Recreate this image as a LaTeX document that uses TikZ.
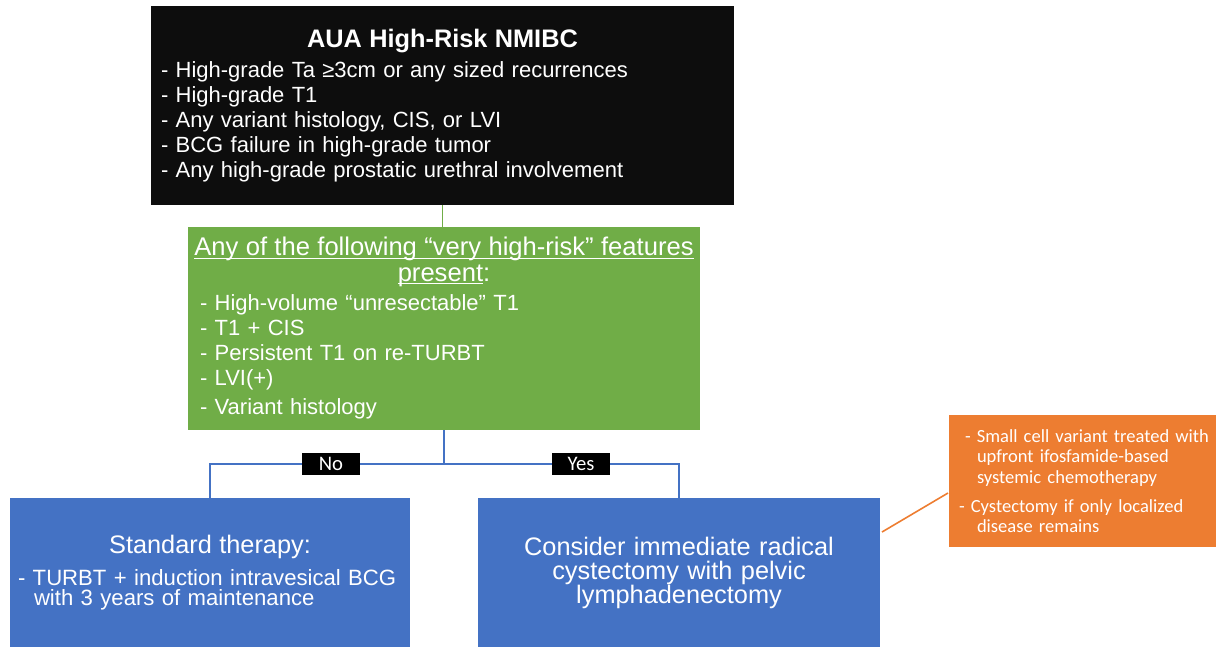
\documentclass[tikz,border=0pt]{standalone}
\usepackage{fontspec}
\setmainfont{Liberation Sans}
\newfontfamily\calfont{Carlito}
\usepackage{tikz}
\usetikzlibrary{shapes}
\newcommand{\ulword}[1]{\leavevmode\setbox0\hbox{#1}\rlap{\rule[-2.6pt]{\wd0}{0.9pt}}\box0}
\definecolor{hrblack}{HTML}{0D0D0D}
\definecolor{vhrgreen}{HTML}{70AD47}
\definecolor{txblue}{HTML}{4472C4}
\definecolor{noteorange}{HTML}{ED7D31}
\tikzstyle{hrbox} = [rectangle, fill=hrblack, text=white, minimum width=437.25pt, minimum height=149.25pt, text width=422.25pt, inner xsep=7.5pt, inner ysep=0pt, align=left, font=\fontsize{16.5}{18.75}\selectfont]
\tikzstyle{vhrbox} = [rectangle, fill=vhrgreen, text=white, minimum width=384pt, minimum height=152.25pt, text width=376.5pt, inner xsep=3.75pt, inner ysep=0pt, align=left, font=\fontsize{16.5}{18.75}\selectfont]
\tikzstyle{txbox} = [rectangle, fill=txblue, text=white, minimum height=111.75pt, inner xsep=6pt, inner ysep=0pt]
\tikzstyle{notebox} = [rectangle, fill=noteorange, text=white, minimum width=217.5pt, minimum height=99pt, text width=202.5pt, inner xsep=7.5pt, inner ysep=0pt, align=left, font=\calfont\fontsize{13.9}{15.4}\selectfont]
\tikzstyle{answer} = [rectangle, fill=black, text=white, minimum width=43.5pt, minimum height=16.5pt, inner sep=0pt, font=\calfont\fontsize{15.5}{18}\selectfont]
\tikzstyle{input} = [coordinate]
\tikzstyle{greenline} = [draw=vhrgreen, line width=1.2pt]
\tikzstyle{blueline} = [draw=txblue, line width=1.2pt]
\tikzstyle{noteline} = [draw=noteorange, line width=1.2pt]

\begin{document}
\begin{tikzpicture}[x=0.75pt, y=-0.75pt]
	\useasboundingbox (0,0) rectangle (1216,647);
% Nodes
	\node [hrbox] (highrisk) at (442.5,105.5) {{\centering\fontsize{19}{22}\selectfont\bfseries AUA High-Risk NMIBC\par}\vspace{3.75pt}%
		- High-grade Ta ≥3cm or any sized recurrences\\
		- High-grade T1\\
		- Any variant histology, CIS, or LVI\\
		- BCG failure in high-grade tumor\\
		- Any high-grade prostatic urethral involvement};
	\node [vhrbox] (veryhigh) at (444,328.5) {{\centering\fontsize{19.2}{18.75}\selectfont\ulword{Any of the following “very high-risk” features}\\\ulword{present}:\par}\vspace{3pt}%
		{\leftskip=5.25pt - High-volume “unresectable” T1\\
		- T1 + CIS\\
		- Persistent T1 on re-TURBT\\
		- LVI(+)\\[3.75pt]
		- Variant histology\par}};
	\node [txbox, minimum width=300pt, text width=288pt, align=left, font=\fontsize{16.6}{15.5}\selectfont] (standard) at (210,572.5) {{\centering\fontsize{19}{22}\selectfont Standard therapy:\par}\vspace{7pt}%
		\mbox{- TURBT + induction intravesical BCG}\\
		\hspace*{12pt}with 3 years of maintenance};
	\node [txbox, minimum width=301.5pt, text width=289.5pt, align=center, font=\fontsize{19}{18}\selectfont] (cystectomy) at (679,572.5) {Consider immediate radical\\cystectomy with pelvic\\lymphadenectomy};
	\node [notebox] (smallcell) at (1094,481) {{\leftskip=4.5pt - Small cell variant treated with\\
		\hspace*{9pt}upfront ifosfamide-based\\
		\hspace*{9pt}systemic chemotherapy\par}\vspace{6.35pt}%
		- Cystectomy if only localized\\
		\hspace*{13.5pt}disease remains};
	\node [input] (split) at (444,464) {};
	\node [input] (cystTap) at (882,532) {};
	\node [input] (noteTap) at (948,493) {};
% Connections
	\draw [greenline] (highrisk.south) -- (highrisk.south |- veryhigh.north);
	\draw [blueline] (veryhigh.south) -- (split);
	\draw [blueline] (split) -| (standard.north);
	\draw [blueline] (split) -| (cystectomy.north);
	\draw [noteline] (cystTap) -- (noteTap);
% Notations
	\node [answer] (no) at (331,464) {No};
	\node [answer] (yes) at (581,464) {Yes};
\end{tikzpicture}
\end{document}
